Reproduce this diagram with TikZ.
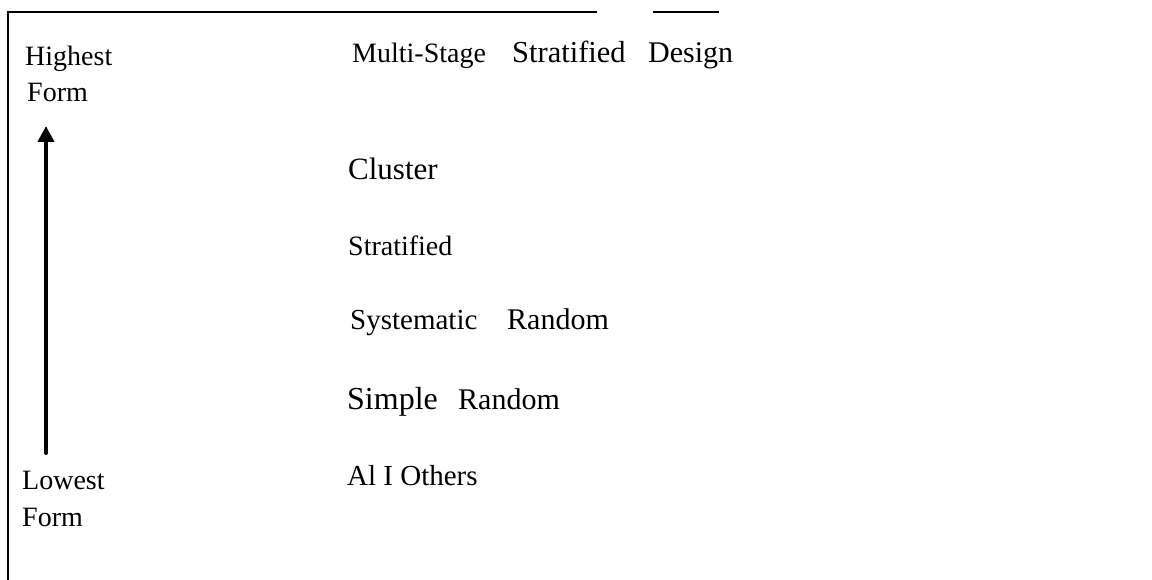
\documentclass[tikz,border=0pt]{standalone}
\usepackage{fontspec}
\setmainfont{Liberation Serif}
\usetikzlibrary{arrows.meta}
\begin{document}
\begin{tikzpicture}[x=1pt,y=-1pt,
  lbl/.style={anchor=base west,inner sep=0pt,font=\fontsize{#1}{30}\selectfont},
  lbl/.default=28,
  frame/.style={line width=2.4pt,black},
  scale arrow/.style={line width=4pt,line cap=round,-{Triangle[width=16pt,length=16pt]}}]
\useasboundingbox (0,0) rectangle (1152,580);
% open frame: top rule with a gap, left rule running to the bottom
\draw[frame] (8,580) -- (8,12) -- (597,12);
\draw[frame] (653,12) -- (719,12);
% scale labels
\node[lbl] (hi1) at (25,66) {Highest};
\node[lbl] (hi2) at (27,102) {Form};
\node[lbl] (lo1) at (22,489) {Lowest};
\node[lbl] (lo2) at (22,526) {Form};
\coordinate (abot) at (46,453);
\coordinate (atop) at (46,126);
\draw[scale arrow] (abot) -- (atop);
% sampling designs, highest to lowest
\node[lbl=28] (m1) at (352,63) {Multi-Stage};
\node[lbl=30.5] (m2) at (512,63) {Stratified};
\node[lbl=30] (m3) at (648,63) {Design};
\node[lbl=31] (c1) at (348,180) {Cluster};
\node[lbl=28] (s1) at (348,256) {Stratified};
\node[lbl=29] (y1) at (350,330) {Systematic};
\node[lbl=30] (y2) at (507,330) {Random};
\node[lbl=32] (r1) at (347,409) {Simple};
\node[lbl=30] (r2) at (458,409) {Random};
\node[lbl=29] (a1) at (347,485) {Al I Others};
\end{tikzpicture}
\end{document}
